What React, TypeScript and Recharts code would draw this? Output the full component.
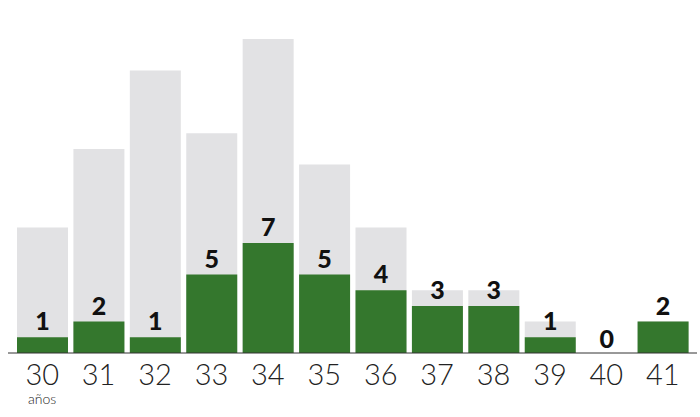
import React from "react";
import { BarChart, Bar, XAxis, YAxis, LabelList } from "recharts";

const AGES = ["30", "31", "32", "33", "34", "35", "36", "37", "38", "39", "40", "41"];
const TOTALS = [8, 13, 18, 14, 20, 12, 8, 4, 4, 2, 0, 2];
const COUNTS = [1, 2, 1, 5, 7, 5, 4, 3, 3, 1, 0, 2];

const GREEN = "#34772d";
const GREY = "#e2e2e4";

const data = AGES.map((age, i) => ({ age, total: TOTALS[i], count: COUNTS[i] }));

const AgeTick = (props: any) => {
  const { x, y, payload, index } = props;
  return (
    <g>
      <text
        x={x}
        y={y + 24}
        textAnchor="middle"
        fontFamily="Lato, 'Open Sans', sans-serif"
        fontWeight={300}
        fontSize={29}
        fill="#222"
      >
        {payload.value}
      </text>
      {index === 0 && (
        <text
          x={x}
          y={y + 43}
          textAnchor="middle"
          fontFamily="Lato, 'Open Sans', sans-serif"
          fontWeight={300}
          fontSize={14}
          fill="#222"
        >
          años
        </text>
      )}
    </g>
  );
};

// value labels sit just above the bar; an empty bar gets its label closer to the axis
const CountLabel = (props: any) => {
  const { x, y, width, height, value } = props;
  const top = Math.min(y, y + height);
  const gap = value === 0 ? 5 : 7;
  return (
    <text
      x={x + width / 2}
      y={top - gap}
      textAnchor="middle"
      fontFamily="Lato, 'Open Sans', sans-serif"
      fontWeight={900}
      fontSize={25}
      fill="#111"
    >
      {value}
    </text>
  );
};

export default function App() {
  return (
    <div style={{ position: "absolute", left: 0, top: 0, width: 700, height: 417, background: "#fff" }}>
      <BarChart
        width={700}
        height={417}
        data={data}
        margin={{ top: 39, right: 3, bottom: 0, left: 8 }}
        barCategoryGap={5}
      >
        <XAxis
          xAxisId="bg"
          dataKey="age"
          height={64}
          padding={{ left: 6, right: 6 }}
          axisLine={{ stroke: "#333", strokeWidth: 1 }}
          tickLine={false}
          tick={<AgeTick />}
          interval={0}
        />
        <XAxis xAxisId="fg" dataKey="age" hide padding={{ left: 6, right: 6 }} />
        <XAxis xAxisId="lbl" dataKey="age" hide padding={{ left: 6, right: 6 }} />
        <YAxis hide domain={[0, 20]} />
        <Bar xAxisId="bg" dataKey="total" fill={GREY} barSize={51} isAnimationActive={false} />
        <Bar xAxisId="fg" dataKey="count" fill={GREEN} barSize={51} isAnimationActive={false} />
        {/* transparent copy of the counts so that zero values still get a label */}
        <Bar
          xAxisId="lbl"
          dataKey="count"
          fill="transparent"
          barSize={51}
          minPointSize={0.01}
          isAnimationActive={false}
        >
          <LabelList dataKey="count" content={<CountLabel />} />
        </Bar>
      </BarChart>
    </div>
  );
}
